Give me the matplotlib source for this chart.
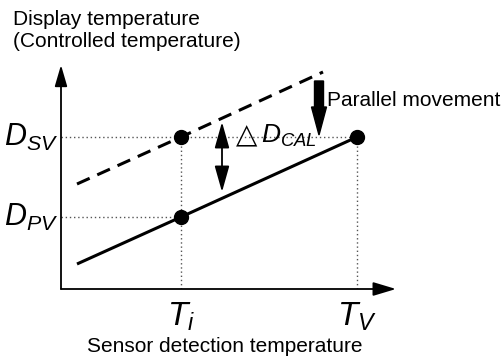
import matplotlib
matplotlib.use("Agg")
import matplotlib.pyplot as plt

plt.rcParams['font.family'] = ['Liberation Sans', 'DejaVu Sans']
plt.rcParams['mathtext.fontset'] = 'custom'
plt.rcParams['mathtext.rm'] = 'Liberation Sans'
plt.rcParams['mathtext.it'] = 'Liberation Sans:italic'
plt.rcParams['lines.scale_dashes'] = False

# --- schematic data (arbitrary units along each axis) ---
sensor_temp = [16, 120, 296]          # line start, T_i, T_V
display_actual = [25, 72, 152]        # solid line (before correction)
dashed_x = [16, 120, 262]
display_shifted = [105, 152, 217]     # dashed line (controlled value)
x_ticks = [120, 296]
x_tick_labels = [r'$T_i$', r'$T_V$']
y_ticks = [152, 72]
y_tick_labels = [r'$D_{SV}$', r'$D_{PV}$']
x_max, y_max = 335, 224

fig = plt.figure(figsize=(5.04, 3.58), dpi=100)
ax = fig.add_axes([61 / 504, 69 / 358, 335 / 504, 224 / 358])
ax.set_xlim(0, x_max)
ax.set_ylim(0, y_max)
ax.axis('off')

# axes with arrows
ax.annotate('', xy=(x_max, 0), xytext=(0, 0),
            arrowprops=dict(arrowstyle='-|>,head_length=1.4,head_width=0.42',
                            lw=1.3, color='black', shrinkA=0, shrinkB=0,
                            mutation_scale=10), annotation_clip=False)
ax.annotate('', xy=(0, y_max), xytext=(0, 0),
            arrowprops=dict(arrowstyle='-|>,head_length=1.3,head_width=0.38',
                            lw=1.3, color='black', shrinkA=0, shrinkB=0,
                            mutation_scale=10), annotation_clip=False)

# dotted guides
dot_kw = dict(color='#555555', lw=1, linestyle=(0, (1, 2)))
ax.plot([0, sensor_temp[2]], [y_ticks[0], y_ticks[0]], **dot_kw)
ax.plot([0, sensor_temp[1]], [y_ticks[1], y_ticks[1]], **dot_kw)
ax.plot([x_ticks[0], x_ticks[0]], [0, y_ticks[0]], **dot_kw)
ax.plot([x_ticks[1], x_ticks[1]], [0, y_ticks[0]], **dot_kw)

# lines
ax.plot(sensor_temp, display_actual, color='black', lw=2.2, solid_capstyle='butt')
ax.plot(dashed_x, display_shifted, color='black', lw=2.2, dashes=(10, 6))

# points
ax.plot([sensor_temp[1], sensor_temp[1], sensor_temp[2]],
        [display_actual[1], display_shifted[1], display_actual[2]],
        'o', color='black', markersize=10)

# delta arrow
ax.annotate('', xy=(161, 167), xytext=(161, 97),
            arrowprops=dict(arrowstyle='<|-|>,head_length=1.6,head_width=0.45',
                            lw=1.3, color='black', shrinkA=0, shrinkB=0,
                            mutation_scale=10))
ax.text(175, 146, '△', fontsize=20, family='DejaVu Sans', ha='left', va='baseline')
ax.text(200, 146, r'$D_{CAL}$', fontsize=19, ha='left', va='baseline')

# parallel movement arrow
ax.arrow(258, 208, 0, -54, width=9, head_width=15, head_length=28,
         length_includes_head=True, color='black')
ax.text(266, 189, 'Parallel movement', fontsize=15, ha='left', va='center')

# tick labels
for x, lab in zip(x_ticks, x_tick_labels):
    ax.text(x, -12, lab, fontsize=24, ha='center', va='top')
for y, lab in zip(y_ticks, y_tick_labels):
    ax.text(-3, y, lab, fontsize=22, ha='right', va='center')

# axis titles
fig.text(13 / 504, 1 - 10 / 358, 'Display temperature\n(Controlled temperature)',
         fontsize=15, ha='left', va='top', linespacing=1.2)
fig.text(225 / 504, 1 - 347 / 358, 'Sensor detection temperature',
         fontsize=15, ha='center', va='center')

fig.savefig('out.png', dpi=100)
